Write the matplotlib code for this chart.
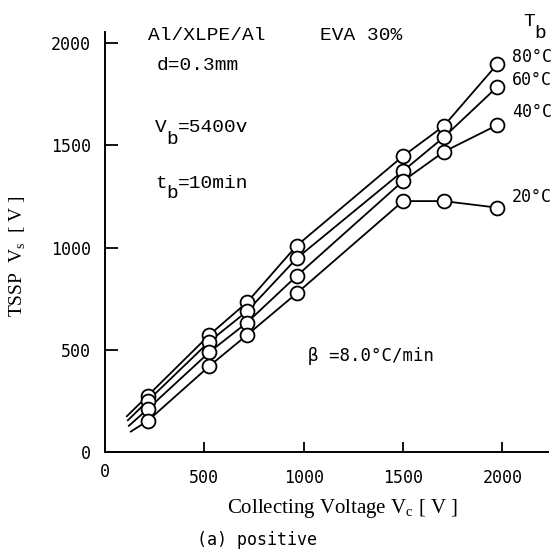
import matplotlib

matplotlib.use("Agg")
import matplotlib.pyplot as plt

W, H = 558, 560

# collecting voltage Vc [V]
vc = [215, 525, 715, 965, 1500, 1705, 1975]
# TSSP Vs [V] for each bias temperature Tb
vs_80 = [275, 572, 732, 1009, 1447, 1594, 1897]
vs_60 = [250, 540, 688, 947, 1374, 1539, 1786]
vs_40 = [210, 488, 633, 861, 1325, 1468, 1599]
vs_20 = [152, 420, 572, 776, 1227, 1227, 1195]
temps = ["80°C", "60°C", "40°C", "20°C"]
# where the drawn lines start below the first point
start_x = [110, 115, 120, 130]
start_y = [175, 155, 128, 100]

xticks = [500, 1000, 1500, 2000]
yticks = [0, 500, 1000, 1500, 2000]

MONO = "Liberation Mono"
SMONO = "DejaVu Sans Mono"
SERIF = "Liberation Serif"


def fx(x):
    return x / W


def fy(y):
    return 1 - y / H


fig = plt.figure(figsize=(W / 100, H / 100), dpi=100)
ax = fig.add_axes([fx(105), fy(452), (548 - 105) / W, (452 - 32) / H])

series = [vs_80, vs_60, vs_40, vs_20]
for i, vs in enumerate(series):
    xs = [start_x[i]] + vc
    ys = [start_y[i]] + vs
    ax.plot(xs, ys, color="black", lw=1.3, zorder=2)
    ax.plot(vc, vs, ls="none", marker="o", ms=10, mfc="white", mec="black",
            mew=1.3, zorder=3)

ax.set_xlim(0, 2230)
ax.set_ylim(0, 2054)
ax.spines["top"].set_visible(False)
ax.spines["right"].set_visible(False)
for s in ("left", "bottom"):
    ax.spines[s].set_linewidth(1.4)
ax.set_xticks(xticks)
ax.set_yticks(yticks)
ax.tick_params(axis="y", direction="in", length=9, width=1.3, pad=10,
               labelsize=12)
ax.tick_params(axis="x", direction="in", length=7, width=1.3, pad=12,
               labelsize=12)
for lab in ax.get_xticklabels() + ax.get_yticklabels():
    lab.set_fontfamily(SMONO)
fig.text(fx(105), fy(472), "0", family=SMONO, fontsize=12, ha="center",
         va="center")

# parameter block (typewriter), subscripts as separate lowered letters
kw = dict(family=MONO, fontsize=14, va="center", ha="left")
cw = 0.6 * 14 * 100 / 72  # monospace advance in px
fig.text(fx(148), fy(35), "Al/XLPE/Al", **kw)
fig.text(fx(320), fy(35), "EVA 30%", **kw)
fig.text(fx(157), fy(65), "d=0.3mm", **kw)
fig.text(fx(155), fy(128), "V", **kw)
fig.text(fx(155 + cw), fy(139), "b", **kw)
fig.text(fx(155 + 2 * cw), fy(128), "=5400v", **kw)
fig.text(fx(155), fy(183), "t", **kw)
fig.text(fx(155 + cw), fy(194), "b", **kw)
fig.text(fx(155 + 2 * cw), fy(183), "=10min", **kw)
fig.text(fx(523), fy(21), "T", **kw)
fig.text(fx(523 + cw), fy(33), "b", **kw)

for t, y in zip(temps, [57, 80, 112, 197]):
    fig.text(fx(512), fy(y), t, family=SMONO, fontsize=12, va="center")

fig.text(fx(308), fy(356), "β =8.0°C/min", family=SMONO, fontsize=12.5,
         va="center")

fig.text(fx(342), fy(508), r"Collecting Voltage V$_\mathregular{c}$ [ V ]",
         family=SERIF, fontsize=15, ha="center", va="center")
fig.text(fx(197), fy(540), "(a) positive", family=SMONO, fontsize=12,
         va="center")
fig.text(fx(18), fy(256), r"TSSP  V$_\mathregular{s}$  [ V ]", family=SERIF,
         fontsize=14, rotation=90, ha="center", va="center")

fig.savefig("out.png", dpi=100)
